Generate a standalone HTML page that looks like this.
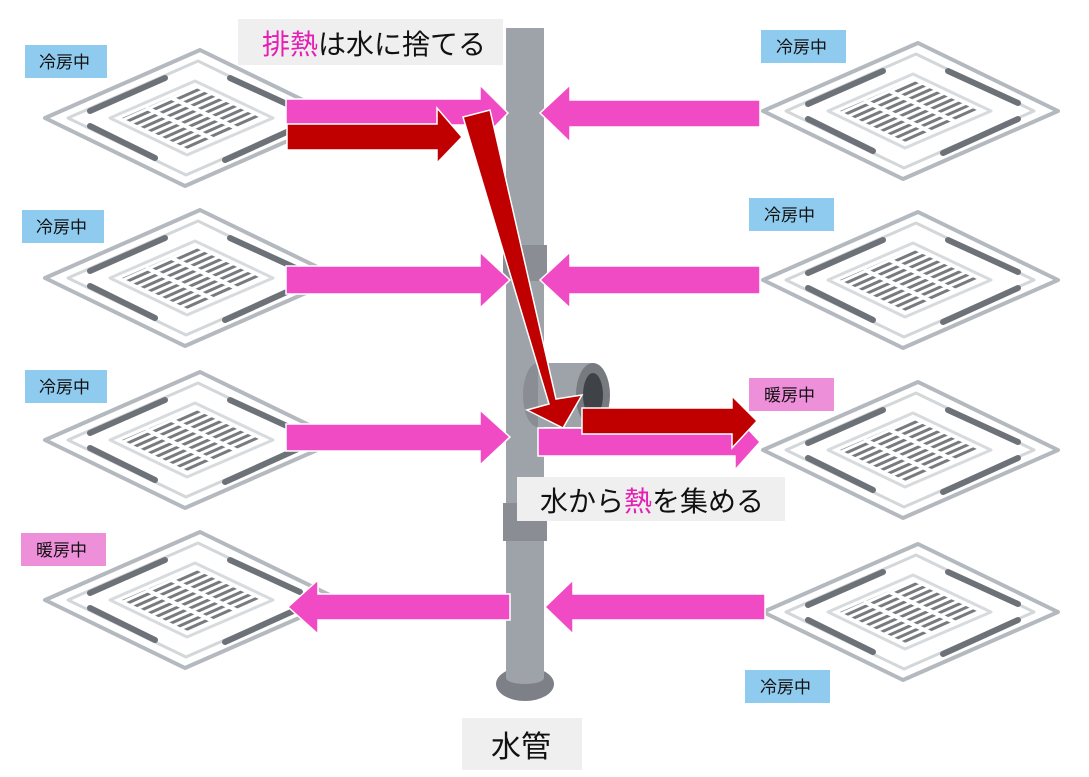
<!DOCTYPE html>
<html><head><meta charset="utf-8"><style>
html,body{margin:0;padding:0;background:#fff;}
svg{display:block;}
text{font-family:"Liberation Sans","Noto Sans CJK JP",sans-serif;}
</style></head><body>
<svg width="1089" height="777" viewBox="0 0 1089 777" xmlns="http://www.w3.org/2000/svg">
<defs>
<pattern id="gr" width="6" height="6" patternUnits="userSpaceOnUse" patternTransform="rotate(-24)">
<rect width="6" height="6" fill="#fff"/><rect y="0" width="6" height="3" fill="#777b80"/>
</pattern>
<g id="ac">
<path d="M-145,0 L10,-68 L150,0 L-5,68 Z" fill="#fff" stroke="#b3b9be" stroke-width="4" stroke-linejoin="round"/>
<path d="M-122,0 L8,-57 L126,0 L-4,57 Z" fill="#fff" stroke="#d3d7da" stroke-width="3" stroke-linejoin="round"/>
<path d="M-80,0 L5,-37 L83,0 L-3,37 Z" fill="#fff" stroke="#d8dbde" stroke-width="3" stroke-linejoin="round"/>
<path d="M-68,0 L4,-31 L71,0 L-2,31 Z" fill="url(#gr)" stroke="none"/>
<line x1="-44" y1="-10.3" x2="22.3" y2="20.7" stroke="#fff" stroke-width="4"/>
<line x1="-20" y1="-20.7" x2="46.7" y2="10.3" stroke="#fff" stroke-width="4"/>
<line x1="-100" y1="-7" x2="-25" y2="-40" stroke="#6d7278" stroke-width="6" stroke-linecap="round"/>
<line x1="40" y1="-40" x2="110" y2="-8" stroke="#6d7278" stroke-width="6" stroke-linecap="round"/>
<line x1="-100" y1="8" x2="-35" y2="40" stroke="#6d7278" stroke-width="6" stroke-linecap="round"/>
<line x1="35" y1="42" x2="110" y2="8" stroke="#6d7278" stroke-width="6" stroke-linecap="round"/>
</g>
</defs>

<use href="#ac" x="190" y="118"/>
<use href="#ac" x="190" y="278"/>
<use href="#ac" x="190" y="440"/>
<use href="#ac" x="190" y="600"/>
<use href="#ac" x="908" y="111"/>
<use href="#ac" x="908" y="280"/>
<use href="#ac" x="908" y="450"/>
<use href="#ac" x="908" y="612"/>

<!-- pipe -->
<ellipse cx="525" cy="684" rx="29" ry="17" fill="#7d8187"/>
<rect x="506" y="28" width="38" height="650" fill="#9ea3a9"/>
<ellipse cx="525" cy="678" rx="19" ry="6" fill="#9ea3a9"/>
<rect x="503" y="245" width="44" height="36" fill="#8a8e94"/>
<rect x="503" y="503" width="44" height="38" fill="#8a8e94"/>
<ellipse cx="538" cy="395" rx="15" ry="32" fill="#8a8e94"/>
<rect x="538" y="363" width="55" height="64" fill="#9ea3a9"/>
<ellipse cx="593" cy="395" rx="17" ry="32" fill="#777b80"/>
<ellipse cx="593" cy="395" rx="10" ry="22" fill="#3f4247"/>

<!-- pink arrows -->
<g fill="#f04bc4" stroke="#fff" stroke-width="1.5">
<path d="M286,99 H480 V85 L508,113 L480,142 V125 H286 Z"/>
<path d="M286,266 H480 V252 L510,280 L480,308 V294 H286 Z"/>
<path d="M286,424 H480 V410 L510,437 L480,465 V451 H286 Z"/>
<path d="M510,594 H318 V580 L288,607 L318,634 V620 H510 Z"/>
<path d="M760,100 H570 V85 L540,113 L570,142 V127 H760 Z"/>
<path d="M760,266 H570 V252 L540,280 L570,308 V294 H760 Z"/>
<path d="M765,594 H573 V580 L545,607 L573,634 V620 H765 Z"/>
<path d="M538,428 H735 V415 L760,442 L735,470 V456 H538 Z"/>
</g>
<!-- red arrows -->
<g fill="#c00000" stroke="#fff" stroke-width="1.5">
<path d="M287,124 H437 V108 L462,137 L437,163 V150 H287 Z"/>
<path d="M582,408 H732 V396 L757,421 L732,448 V434 H582 Z"/>
<path d="M463,117 L490,110 L556,399 L582,395 L563,428 L527,410 L549,404 Z"/>
</g>

<!-- labels -->
<rect x="238" y="19" width="265" height="46" fill="#efefef"/>
<text x="262" y="54" font-size="28"><tspan fill="#e620b4">排熱</tspan><tspan fill="#111">は水に捨てる</tspan></text>
<rect x="517" y="477" width="268" height="44" fill="#efefef"/>
<text x="540" y="511" font-size="28"><tspan fill="#111">水から</tspan><tspan fill="#e620b4">熱</tspan><tspan fill="#111">を集める</tspan></text>
<rect x="462" y="718" width="120" height="52" fill="#efefef"/>
<text x="491" y="757" font-size="30" fill="#111">水管</text>

<g font-size="17" fill="#111">
<rect x="25" y="45" width="82" height="33" fill="#8ecbee"/><text x="39" y="68">冷房中</text>
<rect x="22" y="210" width="82" height="33" fill="#8ecbee"/><text x="36" y="233">冷房中</text>
<rect x="25" y="370" width="82" height="33" fill="#8ecbee"/><text x="39" y="393">冷房中</text>
<rect x="21" y="533" width="85" height="33" fill="#ee8fda"/><text x="36" y="556">暖房中</text>
<rect x="761" y="30" width="85" height="33" fill="#8ecbee"/><text x="776" y="53">冷房中</text>
<rect x="749" y="198" width="85" height="33" fill="#8ecbee"/><text x="764" y="221">冷房中</text>
<rect x="749" y="378" width="85" height="33" fill="#ee8fda"/><text x="764" y="401">暖房中</text>
<rect x="745" y="670" width="85" height="33" fill="#8ecbee"/><text x="760" y="693">冷房中</text>
</g>
</svg>
</body></html>
